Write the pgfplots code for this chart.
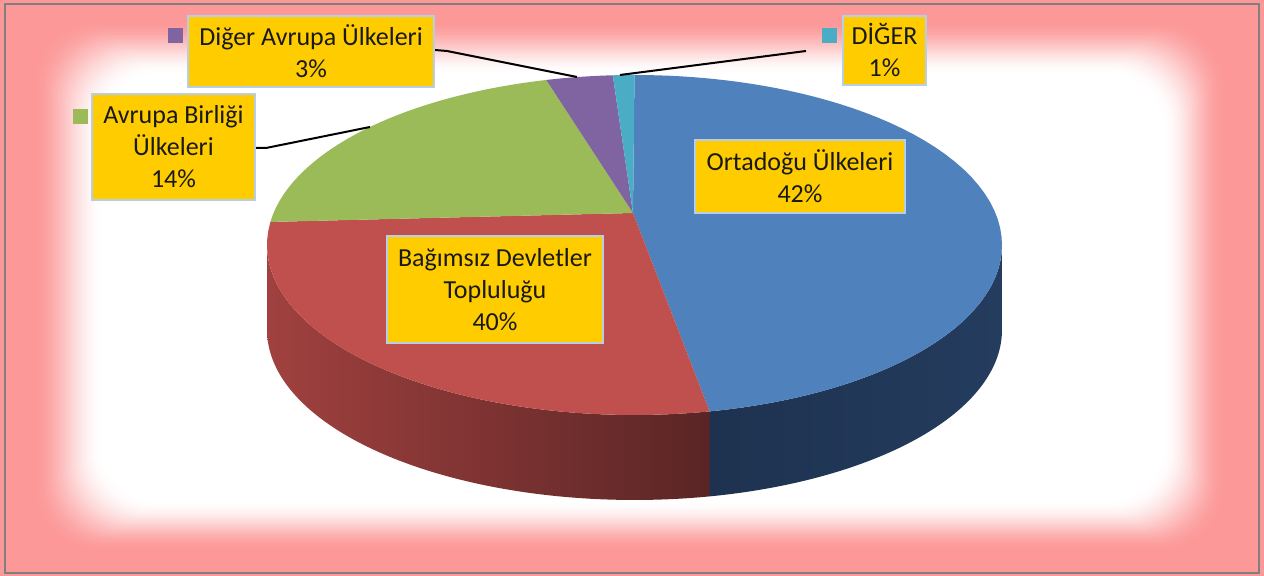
\documentclass[border=0pt]{standalone}
\usepackage{fontspec}
\setmainfont{Carlito}
\usepackage{pgfplots}
\usepackage{pgfplotstable}
\pgfplotsset{compat=1.18}

\definecolor{pinkbg}{RGB}{252,152,152}
\definecolor{slBlue}{RGB}{79,129,189}
\definecolor{slRed}{RGB}{192,80,77}
\definecolor{slGreen}{RGB}{155,187,89}
\definecolor{slPurple}{RGB}{128,100,162}
\definecolor{slCyan}{RGB}{75,172,198}
\definecolor{sideRedL}{RGB}{160,65,63}
\definecolor{sideRedR}{RGB}{90,37,37}
\definecolor{sideBlueL}{RGB}{30,50,80}
\definecolor{sideBlueR}{RGB}{36,60,94}
\definecolor{lblFill}{RGB}{255,204,0}
\definecolor{lblEdge}{RGB}{185,205,229}

% slice shares (percent), clockwise from 12 o'clock
\pgfplotstableread{
id pct
1 42
2 40
3 14
4 3
5 1
}\slices
\pgfplotstablegetelem{0}{pct}\of\slices \edef\pA{\pgfplotsretval}
\pgfplotstablegetelem{1}{pct}\of\slices \edef\pB{\pgfplotsretval}
\pgfplotstablegetelem{2}{pct}\of\slices \edef\pC{\pgfplotsretval}
\pgfplotstablegetelem{3}{pct}\of\slices \edef\pD{\pgfplotsretval}
\pgfplotstablegetelem{4}{pct}\of\slices \edef\pE{\pgfplotsretval}

% visual angle mapping of the tilted 3-D pie (projection)
\pgfmathdeclarefunction{warp}{1}{\pgfmathparse{#1+26.27*sin(#1)-9.436*sin(2*#1)-3.63*sin(3*#1)}}
\pgfmathdeclarefunction{Ex}{1}{\pgfmathparse{634.5+367.5*sin(#1)}}
\pgfmathdeclarefunction{Ey}{1}{\pgfmathparse{331+170*cos(#1)}}

\pgfmathsetmacro\cA{0}
\pgfmathsetmacro\cB{\pA*3.6}
\pgfmathsetmacro\cC{(\pA+\pB)*3.6}
\pgfmathsetmacro\cD{(\pA+\pB+\pC)*3.6}
\pgfmathsetmacro\cE{(\pA+\pB+\pC+\pD)*3.6}
\pgfmathsetmacro\cF{(\pA+\pB+\pC+\pD+\pE)*3.6}
\pgfmathsetmacro\vB{min(270,warp(\cB))}

\newcommand{\topslice}[3]{%
\addplot[fill=#1, draw=none, domain=0:2, samples=161, variable=\t]
 ({\t<=1 ? 633+\t*(Ex(warp(#2))-633) : Ex(warp(#2+(\t-1)*(#3-#2)))},
  {\t<=1 ? 363+\t*(Ey(warp(#2))-363) : Ey(warp(#2+(\t-1)*(#3-#2)))});
}
\newcommand{\sideslice}[4]{%
\addplot[draw=none, left color=#1, right color=#2, domain=0:3, samples=181, variable=\t]
 ({Ex(\t<=1 ? #3+\t*(#4-#3) : (\t<=2 ? #4 : #4-(\t-2)*(#4-#3)))},
  {Ey(\t<=1 ? #3+\t*(#4-#3) : (\t<=2 ? #4 : #4-(\t-2)*(#4-#3))) - (\t<=1 ? 0 : (\t<=2 ? (\t-1)*85 : 85))});
}

\begin{document}%
\begin{tikzpicture}[x=0.5pt,y=0.5pt]
% frame background with soft pink glow
\fill[pinkbg] (0,0) rectangle (1264,576);
\foreach \k in {0,...,40}{
  \pgfmathsetmacro\s{\k/40}
  \pgfmathsetmacro\w{100*(3*\s*\s-2*\s*\s*\s)}
  \pgfmathsetmacro\xa{32+\s*70}
  \pgfmathsetmacro\xb{1226-\s*62}
  \pgfmathsetmacro\ya{24+\s*50}
  \pgfmathsetmacro\yb{556-\s*54}
  \fill[white!\w!pinkbg, rounded corners=30pt] (\xa,\ya) rectangle (\xb,\yb);
}
\draw[gray, line width=1pt] (5,3) rectangle (1259,572);

\begin{axis}[at={(0,0)}, anchor=south west, width=632pt, height=288pt,
  scale only axis, xmin=0, xmax=1264, ymin=0, ymax=576, hide axis, clip=false]
% visible side walls
\sideslice{sideBlueL}{sideBlueR}{90}{\vB}
\sideslice{sideRedL}{sideRedR}{\vB}{270}
% top faces
\topslice{slBlue}{\cA}{\cB}
\topslice{slRed}{\cB}{\cC}
\topslice{slGreen}{\cC}{\cD}
\topslice{slPurple}{\cD}{\cE}
\topslice{slCyan}{\cE}{\cF}
% leader lines
\addplot[black, line width=1pt] coordinates {(435,526) (447,525) (577,499)};
\addplot[black, line width=1pt] coordinates {(620,501) (806,525)};
\addplot[black, line width=1pt] coordinates {(255,428) (266,428) (370,449)};
% legend keys
\addplot[only marks, mark=square*, mark size=3.5pt, color=slPurple] coordinates {(175,541)};
\addplot[only marks, mark=square*, mark size=3.5pt, color=slCyan] coordinates {(829,541)};
\addplot[only marks, mark=square*, mark size=3.5pt, color=slGreen] coordinates {(80,460)};
\end{axis}

\tikzset{lbl/.style={fill=lblFill, draw=lblEdge, line width=1pt, align=center,
  inner sep=0pt, font=\fontsize{13}{16}\selectfont, text=black!90}}
\node[lbl, minimum width=105pt, minimum height=36.5pt] at (800,399.5) {Ortadoğu Ülkeleri\\\pA\%};
\node[lbl, minimum width=108pt, minimum height=53.5pt] at (495,286.5) {Bağımsız Devletler\\Topluluğu\\\pB\%};
\node[lbl, minimum width=81.5pt, minimum height=53pt] at (173.5,429) {Avrupa Birliği\\Ülkeleri\\\pC\%};
\node[lbl, minimum width=123pt, minimum height=35.5pt] at (311,524.5) {Diğer Avrupa Ülkeleri\\\pD\%};
\node[lbl, minimum width=41.5pt, minimum height=34.5pt] at (884.5,525.5) {DİĞER\\\pE\%};
\pgfresetboundingbox
\path[use as bounding box] (0,0) rectangle (1264,576);
\end{tikzpicture}%
\end{document}
